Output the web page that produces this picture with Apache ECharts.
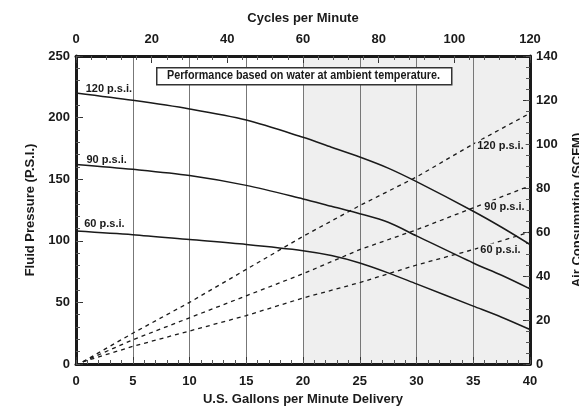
<!DOCTYPE html>
<html><head><meta charset="utf-8">
<script src="https://cdn.jsdelivr.net/npm/echarts@6/dist/echarts.min.js"></script>
<style>html,body{margin:0;padding:0;background:#fff}#c{width:579px;height:408px}</style>
</head><body><div id="c"></div>
<script>
// Fluid pressure curves (left axis, P.S.I.) vs U.S. GPM
const gpm = [0, 5, 10, 15, 20, 22.5, 25, 27.5, 30, 35, 37.5, 40];
const fluid120 = [220, 214, 207, 198, 184, 176, 168, 159, 148, 124, 111, 97];
const fluid90  = [162, 158, 153, 145, 134, 128, 122, 115, 104, 82, 72, 61];
const fluid60  = [108, 105, 101, 97, 92, 88, 82, 74, 65, 47, 38, 28];
// Air consumption (right axis, SCFM)
const airGpm = [0.6, 5, 10, 15, 20, 25, 30, 35, 40];
const air120 = [1, 14, 28, 43, 58, 72, 85, 100, 114];
const air90  = [1, 11, 21, 31, 41, 52, 61, 71, 81];
const air60  = [1, 8, 15, 22, 30, 37, 45, 52, 60];
// tick settings
const xTicks = {min: 0, max: 40, interval: 5};
const xMinor = {min: 0, max: 40, interval: 1};
const cpmTicks = {min: 0, max: 120, interval: 20};
const cpmMinor = {min: 0, max: 120, interval: 4};
const psiTicks = {min: 0, max: 250, interval: 50};
const psiMinor = {min: 0, max: 250, interval: 10};
const scfmTicks = {min: 0, max: 140, interval: 20};
const scfmMinor = {min: 0, max: 140, interval: 5};
const legendText = 'Performance based on water at ambient temperature.';

const FONT = '"Liberation Sans","Arial","Helvetica",sans-serif';
const pair = (xs, ys) => xs.map((x, i) => [x, ys[i]]);
const axisLine = {show: true, lineStyle: {color: '#1a1a1a', width: 3}};
const tickLabel = {color: '#1a1a1a', fontFamily: FONT, fontWeight: 'bold', fontSize: 13};
const nameStyle = {color: '#1a1a1a', fontFamily: FONT, fontWeight: 'bold', fontSize: 13};
const tick = {show: true, inside: true, length: 7, lineStyle: {color: '#333', width: 1}};
const minorAxis = (pos, gridIndex, t) => ({
  type: 'value', position: pos, gridIndex, ...t,
  axisLine: {show: true, onZero: false, lineStyle: {color: 'rgba(0,0,0,0)', width: 0}},
  axisLabel: {show: false}, splitLine: {show: false},
  axisTick: {show: true, inside: true, length: 4, lineStyle: {color: '#555', width: 1}}
});
const lbl = (text, x, y, bg) => ({coord: [x, y], symbol: 'circle', symbolSize: 1,
  itemStyle: {color: 'rgba(0,0,0,0)'},
  label: {show: true, position: 'inside', formatter: text, color: '#1a1a1a', fontFamily: FONT,
    fontWeight: 'bold', fontSize: 11, backgroundColor: bg || 'transparent', padding: [1, 2]}});

const solid = (name, data, label) => ({
  name, type: 'line', xAxisIndex: 0, yAxisIndex: 0, data: pair(gpm, data), smooth: 0.3,
  showSymbol: false, lineStyle: {color: '#1a1a1a', width: 1.5}, z: 3,
  markPoint: {data: [label], animation: false}
});
const dashed = (name, data, label) => ({
  name, type: 'line', xAxisIndex: 0, yAxisIndex: 1, data: pair(airGpm, data), smooth: false,
  showSymbol: false, lineStyle: {color: '#1a1a1a', width: 1.3, type: [4, 4]}, z: 3,
  markPoint: {data: [label], animation: false}
});

const gridBox = {left: 76, right: 49, top: 56, bottom: 44, outerBoundsMode: 'none', containLabel: false};
const chart = echarts.init(document.getElementById('c'), null, {renderer: 'canvas'});
chart.setOption({
  animation: false,
  backgroundColor: '#fff',
  grid: [{...gridBox}, {...gridBox}],
  xAxis: [{
    type: 'value', position: 'bottom', gridIndex: 0, ...xTicks,
    name: 'U.S. Gallons per Minute Delivery', nameLocation: 'middle', nameGap: 29, nameTextStyle: nameStyle,
    axisLine: {...axisLine, onZero: false}, axisTick: tick,
    axisLabel: {...tickLabel, margin: 11},
    splitLine: {show: true, lineStyle: {color: '#777', width: 1}},
    splitArea: {show: true, areaStyle: {color: ['#ffffff', '#ffffff', '#ffffff', '#ffffff', '#efefef', '#efefef', '#efefef', '#efefef']}}
  }, {
    type: 'value', position: 'top', gridIndex: 0, ...cpmTicks,
    name: 'Cycles per Minute', nameLocation: 'middle', nameGap: 31, nameTextStyle: nameStyle,
    axisLine: {...axisLine, onZero: false}, axisTick: tick,
    axisLabel: {...tickLabel, margin: 10},
    splitLine: {show: false}
  },
  minorAxis('bottom', 1, xMinor),
  minorAxis('top', 1, cpmMinor)],
  yAxis: [{
    type: 'value', position: 'left', gridIndex: 0, ...psiTicks,
    name: 'Fluid Pressure (P.S.I.)', nameLocation: 'middle', nameGap: 35, nameRotate: 90, nameTextStyle: nameStyle,
    axisLine: {...axisLine, onZero: false}, axisTick: tick,
    axisLabel: {...tickLabel, margin: 6},
    splitLine: {show: true, lineStyle: {color: '#777', width: 1}}
  }, {
    type: 'value', position: 'right', gridIndex: 0, ...scfmTicks,
    name: 'Air Consumption (SCFM)', nameLocation: 'middle', nameGap: 41, nameRotate: 90, nameTextStyle: nameStyle,
    axisLine: {...axisLine, onZero: false}, axisTick: tick,
    axisLabel: {...tickLabel, margin: 6},
    splitLine: {show: false}
  },
  minorAxis('left', 1, psiMinor),
  minorAxis('right', 1, scfmMinor)],
  series: [
    solid('120 psi', fluid120, lbl('120 p.s.i.', 2.9, 223)),
    solid('90 psi', fluid90, lbl('90 p.s.i.', 2.7, 166)),
    solid('60 psi', fluid60, lbl('60 p.s.i.', 2.5, 113.6)),
    dashed('120 psi air', air120, lbl('120 p.s.i.', 37.4, 99, '#efefef')),
    dashed('90 psi air', air90, lbl('90 p.s.i.', 37.75, 71.5, '#efefef')),
    dashed('60 psi air', air60, lbl('60 p.s.i.', 37.4, 51.8, '#efefef'))
  ],
  graphic: [{
    type: 'rect', left: 156, top: 67, z: 10,
    shape: {width: 295, height: 17},
    style: {fill: '#fff', stroke: '#333', lineWidth: 1.5}
  }, {
    type: 'text', x: 303.5, y: 76, z: 11, scaleX: 0.9, scaleY: 1,
    style: {text: legendText, fill: '#1a1a1a', font: 'bold 12px ' + FONT, align: 'center', verticalAlign: 'middle'}
  }]
});
</script></body></html>
